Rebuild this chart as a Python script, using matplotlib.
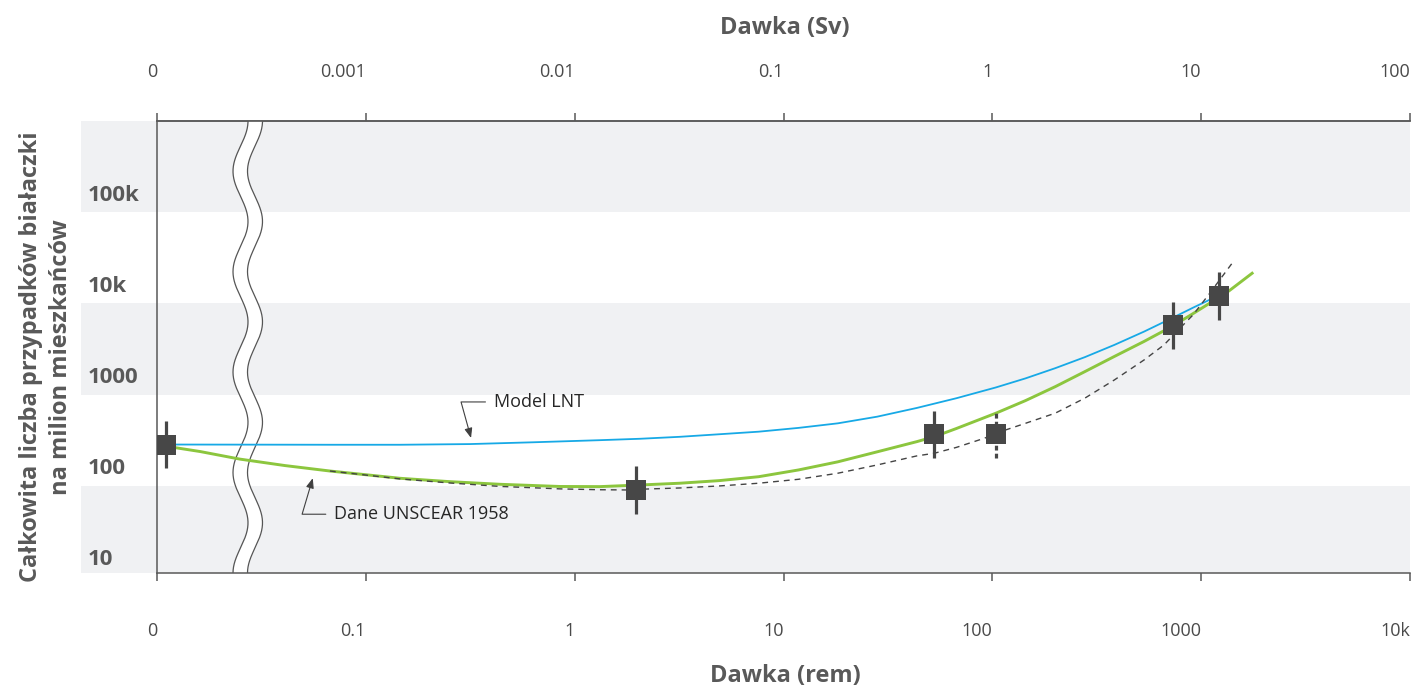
import numpy as np
import matplotlib
matplotlib.use('Agg')
import matplotlib.pyplot as plt
from matplotlib.ticker import NullLocator

plt.rcParams['font.family'] = ['Open Sans', 'DejaVu Sans']

# ---------------- data ----------------
# measured points (dose in rem, cases per million); "0" dose drawn at the left edge
point_dose_rem = [0.011, 1.96, 52.8, 104.5, 735, 1224]
point_cases = [172, 54, 223, 223, 3520, 7330]
point_err_low = [95, 29.7, 122, 122, 1914, 4020]
point_err_high = [312, 100, 405, 405, 6380, 13460]
point_err_dashed = [False, False, False, True, False, False]

# LNT model (blue)
lnt_dose_rem = [0.011, 0.0673, 0.146, 0.316, 0.631, 1.32, 2.06, 3.18, 4.92, 7.60, 11.8,
                18.2, 28.1, 43.5, 67.3, 104, 144, 200, 277, 384, 533, 723, 920, 1094, 1224]
lnt_cases = [172, 171, 171, 174, 182, 192, 199, 209, 223, 238, 262,
             294, 348, 434, 555, 729, 916, 1186, 1567, 2138, 2995, 4200, 5520, 6670, 7330]

# UNSCEAR 1958 fit (green)
unscear_dose_rem = [0.011, 0.0122, 0.0161, 0.0249, 0.041, 0.0673, 0.146, 0.253, 0.439,
                    0.851, 1.32, 2.06, 3.18, 4.92, 7.60, 11.8, 18.2, 28.1, 43.5, 52.8,
                    67.3, 104, 144, 200, 277, 384, 533, 723, 920, 1195, 1358, 1754]
unscear_cases = [165, 159, 144, 119, 101, 88, 73.2, 67.2, 62.9,
                 59.5, 59.3, 61.8, 64.6, 69.0, 76.2, 90.4, 111, 143, 185, 210,
                 258, 380, 522, 743, 1086, 1596, 2335, 3400, 4760, 6930, 8370, 13100]

# alternative fit (black dashed)
alt_dose_rem = [0.0673, 0.146, 0.253, 0.439, 0.851, 1.32, 1.76, 2.06, 3.18, 4.92, 7.60,
                11.8, 18.2, 28.1, 43.5, 52.8, 67.3, 91.2, 116, 144, 200, 277, 384, 533,
                664, 837, 914, 1102, 1422]
alt_cases = [88, 72, 65, 59.6, 56, 54.8, 54.5, 55.5, 57.3, 60.3, 64.6,
             71.4, 83.2, 102.6, 129, 138, 160, 201, 249, 294, 380, 555, 881, 1462,
             2138, 3720, 4560, 7960, 17460]

x_ticks_rem = [0.01, 0.1, 1, 10, 100, 1000, 10000]
x_labels_rem = ['0', '0.1', '1', '10', '100', '1000', '10k']
x_ticks_sv = [0.0001, 0.001, 0.01, 0.1, 1, 10, 100]
x_labels_sv = ['0', '0.001', '0.01', '0.1', '1', '10', '100']
y_ticks = [10, 100, 1000, 10000, 100000]
y_labels = ['10', '100', '1000', '10k', '100k']

# ---------------- style ----------------
GREEN = '#8cc63e'
BLUE = '#17a9e6'
DARK = '#474747'
AXC = '#595959'
BAND = '#f0f1f3'

W, H = 1416, 689
fig = plt.figure(figsize=(W / 100, H / 100), dpi=100)
ax = fig.add_axes([157 / W, (H - 573) / H, 1253 / W, 452 / H])

ax.set_xscale('log')
ax.set_yscale('log')
ax.set_xlim(0.01, 10000)
ylo, yhi = 10 ** 0.824, 10 ** 5.79
ax.set_ylim(ylo, yhi)

# horizontal bands
band_edges = [(ylo, 10 ** 1.785), (10 ** 2.785, 10 ** 3.785), (10 ** 4.785, yhi)]
for lo, hi in band_edges:
    ax.axhspan(lo, hi, xmin=-76 / 1253, xmax=1, color=BAND, lw=0, zorder=0, clip_on=False)

# axis break (two wavy lines with white gap)
t = np.linspace(0, 1, 600)
xc = (240.5 - 157) / 1253
amp = 7.5 / 1253
gap = 14.5 / 1253
wave = amp * np.cos(2 * np.pi * 4.5 * (1 - t))
xl = xc + wave
xr = xc + gap + wave
ax.fill_betweenx(t, xl, xr, color='white', lw=0, transform=ax.transAxes, zorder=1)
ax.plot(xl, t, color='#555555', lw=0.9, transform=ax.transAxes, zorder=1.1)
ax.plot(xr, t, color='#555555', lw=0.9, transform=ax.transAxes, zorder=1.1)

# curves
ax.plot(lnt_dose_rem, lnt_cases, color=BLUE, lw=1.3, zorder=3, solid_joinstyle='round')
ax.plot(unscear_dose_rem, unscear_cases, color=GREEN, lw=2.1, zorder=3.2,
        solid_joinstyle='round')
ax.plot(alt_dose_rem, alt_cases, color='#444444', lw=1.0, dashes=(4.2, 3.6), zorder=3.4)

# error bars and squares
for xd, lo, hi, dsh in zip(point_dose_rem, point_err_low, point_err_high, point_err_dashed):
    ax.vlines(xd, lo, hi, color=DARK, lw=2.3, zorder=4,
              linestyles=(0, (1.5, 1.0)) if dsh else 'solid')
ax.plot(point_dose_rem, point_cases, 's', color=DARK, ms=13.7, mew=0, zorder=5)

# annotations
ann_kw = dict(fontsize=13, color='#262626', ha='left', va='center')
ax.annotate('Model LNT', xy=(0.319, 203), xytext=(0.41, 505), **ann_kw,
            arrowprops=dict(arrowstyle='-|>,head_length=0.45,head_width=0.18',
                            color='#404040', lw=0.8, shrinkA=4, shrinkB=0,
                            connectionstyle='angle,angleA=0,angleB=105.5'))
ax.annotate('Dane UNSCEAR 1958', xy=(0.0557, 73.3), xytext=(0.0705, 29.5), **ann_kw,
            arrowprops=dict(arrowstyle='-|>,head_length=0.45,head_width=0.18',
                            color='#404040', lw=0.8, shrinkA=4, shrinkB=0,
                            connectionstyle='angle,angleA=0,angleB=73.5'))

# spines
for side in ['top', 'bottom', 'left', 'right']:
    ax.spines[side].set_color(AXC)
    ax.spines[side].set_linewidth(1.1)
ax.spines['right'].set_visible(False)

# bottom axis (rem)
ax.set_xticks(x_ticks_rem, x_labels_rem)
ax.xaxis.set_minor_locator(NullLocator())
ax.tick_params(axis='x', direction='out', length=6, width=1.1, color=AXC,
               labelsize=13, labelcolor='#4a4a4a', pad=29)
plt.setp(ax.get_xticklabels(), ha='right')

# y axis
ax.set_yticks(y_ticks, y_labels)
ax.yaxis.set_minor_locator(NullLocator())
ax.tick_params(axis='y', length=0, pad=50, labelsize=16, labelcolor=AXC)
for lbl in ax.get_yticklabels():
    lbl.set_fontweight('bold')
    lbl.set_horizontalalignment('left')

# top axis (Sv)
sec = ax.secondary_xaxis('top', functions=(lambda r: r / 100.0, lambda s: s * 100.0))
sec.set_xscale('log')
sec.set_xticks(x_ticks_sv, x_labels_sv)
sec.xaxis.set_minor_locator(NullLocator())
sec.tick_params(axis='x', direction='out', length=6, width=1.1, color=AXC,
                labelsize=13, labelcolor='#4a4a4a', pad=23)
sec.spines['top'].set_color(AXC)
sec.spines['top'].set_linewidth(1.1)
plt.setp(sec.get_xticklabels(), ha='right')

# axis titles
fig.text(785 / W, 1 - 28 / H, 'Dawka (Sv)', ha='center', va='center',
         fontsize=17, fontweight='bold', color=AXC)
fig.text(785 / W, 1 - 676 / H, 'Dawka (rem)', ha='center', va='center',
         fontsize=17, fontweight='bold', color=AXC)
fig.text(46 / W, 1 - 357 / H, 'Całkowita liczba przypadków białaczki\nna milion mieszkańców',
         rotation=90, ha='center', va='center', multialignment='center', linespacing=1.3,
         fontsize=17, fontweight='bold', color=AXC)

fig.savefig('out.png', dpi=100)
